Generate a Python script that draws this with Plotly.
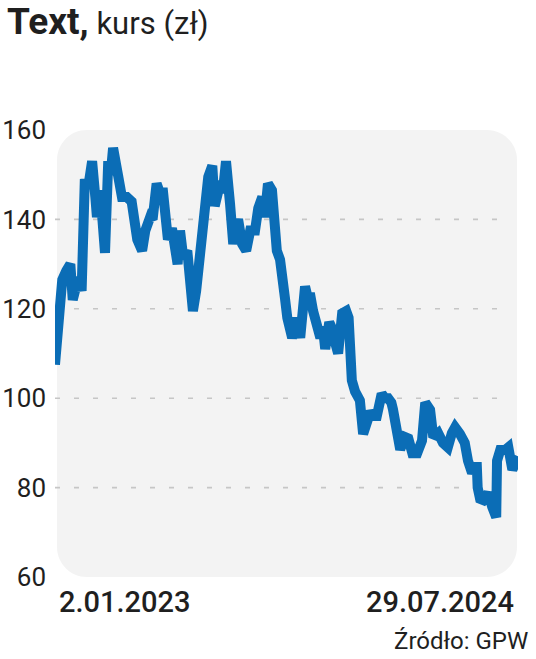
import plotly.graph_objects as go

# ---- data ----
dates = [
    "2023-01-02", "2023-01-04", "2023-01-06", "2023-01-11", "2023-01-16", "2023-01-21",
    "2023-01-24", "2023-01-28", "2023-01-31", "2023-02-04", "2023-02-08", "2023-02-12",
    "2023-02-17", "2023-02-21", "2023-02-23", "2023-02-27", "2023-03-03", "2023-03-05",
    "2023-03-09", "2023-03-12", "2023-03-15", "2023-03-19", "2023-03-21", "2023-03-26",
    "2023-04-01", "2023-04-07", "2023-04-11", "2023-04-14", "2023-04-20", "2023-04-24",
    "2023-04-30", "2023-05-03", "2023-05-08", "2023-05-12", "2023-05-16", "2023-05-20",
    "2023-05-22", "2023-05-27", "2023-05-31", "2023-06-03", "2023-06-06", "2023-06-10",
    "2023-06-15", "2023-06-18", "2023-06-22", "2023-06-26", "2023-06-28", "2023-07-03",
    "2023-07-07", "2023-07-11", "2023-07-16", "2023-07-19", "2023-07-23", "2023-07-26",
    "2023-07-29", "2023-08-02", "2023-08-07", "2023-08-11", "2023-08-14", "2023-08-17",
    "2023-08-22", "2023-08-27", "2023-09-01", "2023-09-07", "2023-09-11", "2023-09-16",
    "2023-09-19", "2023-09-23", "2023-09-28", "2023-09-30", "2023-10-03", "2023-10-04",
    "2023-10-08", "2023-10-12", "2023-10-14", "2023-10-17", "2023-10-20", "2023-10-23",
    "2023-10-27", "2023-10-29", "2023-11-02", "2023-11-05", "2023-11-08", "2023-11-12",
    "2023-11-14", "2023-11-18", "2023-11-23", "2023-11-27", "2023-11-30", "2023-12-03",
    "2023-12-08", "2023-12-13", "2023-12-16", "2023-12-19", "2023-12-24", "2023-12-29",
    "2024-01-01", "2024-01-05", "2024-01-09", "2024-01-15", "2024-01-19", "2024-01-23",
    "2024-01-28", "2024-02-01", "2024-02-05", "2024-02-11", "2024-02-15", "2024-02-19",
    "2024-02-23", "2024-02-25", "2024-03-01", "2024-03-05", "2024-03-08", "2024-03-11",
    "2024-03-15", "2024-03-20", "2024-03-26", "2024-03-29", "2024-04-01", "2024-04-05",
    "2024-04-08", "2024-04-11", "2024-04-15", "2024-04-21", "2024-04-27", "2024-05-03",
    "2024-05-08", "2024-05-12", "2024-05-18", "2024-05-24", "2024-05-28", "2024-06-02",
    "2024-06-06", "2024-06-08", "2024-06-09", "2024-06-12", "2024-06-16", "2024-06-19",
    "2024-06-22", "2024-06-27", "2024-07-02", "2024-07-03", "2024-07-07", "2024-07-13",
    "2024-07-17", "2024-07-22", "2024-07-25", "2024-07-29",
]
prices = [
    107.5, 112, 121, 126.5, 128.5, 130,
    122, 124, 127, 124, 149, 147,
    153, 145, 140.5, 146.5, 140, 132.5,
    153, 150, 156, 153, 150, 145,
    145, 144, 140, 135.5, 133, 137.5,
    140.5, 140, 148, 146, 146, 140,
    135.5, 138, 134, 130, 137.5, 131.5,
    133, 124, 119.5, 124, 128, 135.5,
    145, 149.5, 152, 143, 146, 148.5,
    146, 153, 143.5, 134.5, 138, 140,
    134.5, 133, 137.5, 137.5, 142.5, 145,
    140.5, 148, 146.5, 142, 136, 133,
    131, 127, 122.5, 118, 115, 113.5,
    116, 118, 113.5, 120, 125, 122,
    123.5, 119.5, 115, 113.5, 116, 111,
    117, 115, 112, 110, 119, 119.5,
    118, 104, 101.5, 99.5, 92, 95,
    97, 96, 96, 101, 100, 100,
    99, 97.5, 91.5, 88.5, 90, 91.3,
    91, 87.7, 87.7, 89, 90.5, 99,
    97.5, 97.4, 91.3, 92.2, 90, 89,
    92.2, 93.5, 92, 90, 86, 83.3,
    84.6, 84.6, 80, 77.5, 77.2, 78.5,
    78.8, 75.7, 73.4, 86, 88.4, 88.4,
    89, 84, 86, 87,
]
y_ticks = [60, 80, 100, 120, 140, 160]
grid_values = [80, 100, 120, 140]
x_labels = [("2023-01-02", "2.01.2023"), ("2024-07-29", "29.07.2024")]
title_bold = "Text,"
title_rest = " kurs (zł)"
source_text = "Źródło: GPW"

FONT = "Roboto, sans-serif"
TXT = "#1f1f1f"
LINE = "#0b6db6"

fig = go.Figure()
fig.add_trace(go.Scatter(
    x=dates, y=prices, mode="lines",
    line=dict(color=LINE, width=10, shape="linear"),
    hoverinfo="skip", showlegend=False,
))

W, H = 536, 659
ml, mr, mt, mb = 55, 18, 130, 82
pw = W - ml - mr
ph = H - mt - mb

# rounded background (paper coords)
x0 = (57 - ml) / pw
x1 = (517 - ml) / pw
y0, y1 = 0.0, 1.0
r = 30
rx, ry = r / pw, r / ph
k = 0.5523
path = (
    f"M {x0+rx},{y1} L {x1-rx},{y1} "
    f"C {x1-rx+rx*k},{y1} {x1},{y1-ry+ry*k} {x1},{y1-ry} "
    f"L {x1},{y0+ry} "
    f"C {x1},{y0+ry-ry*k} {x1-rx+rx*k},{y0} {x1-rx},{y0} "
    f"L {x0+rx},{y0} "
    f"C {x0+rx-rx*k},{y0} {x0},{y0+ry-ry*k} {x0},{y0+ry} "
    f"L {x0},{y1-ry} "
    f"C {x0},{y1-ry+ry*k} {x0+rx-rx*k},{y1} {x0+rx},{y1} Z"
)
shapes = [dict(type="path", path=path, xref="paper", yref="paper",
               fillcolor="#f3f3f3", line=dict(width=0), layer="below")]
for g in grid_values:
    shapes.append(dict(type="line", xref="paper", yref="y",
                       x0=0.0, x1=(506 - ml) / pw, y0=g, y1=g,
                       line=dict(color="#c6c6c6", width=1.6, dash="5px,14px"),
                       layer="below"))

annotations = [
    dict(text=f"<b><span style='font-size:37px'>{title_bold}</span></b>{title_rest}",
         xref="paper", yref="paper",
         x=(5 - ml) / pw, y=(mt + ph - 22) / ph, xanchor="left", yanchor="middle",
         showarrow=False, font=dict(family=FONT, size=31, color=TXT)),
    dict(text=source_text, xref="paper", yref="paper",
         x=(530 - ml) / pw, y=-(641 - mt - ph) / ph, xanchor="right", yanchor="middle",
         showarrow=False, font=dict(family=FONT, size=24, color=TXT)),
]
for i, (d, lab) in enumerate(x_labels):
    annotations.append(dict(
        text=lab, xref="x", yref="paper", x=d, y=-(602 - mt - ph) / ph,
        xanchor="left" if i == 0 else "right", yanchor="middle",
        xshift=2 if i == 0 else -2,
        showarrow=False, font=dict(family=FONT, size=29, color=TXT, weight=500)))

fig.update_layout(
    width=W, height=H,
    margin=dict(l=ml, r=mr, t=mt, b=mb, pad=0, autoexpand=False),
    paper_bgcolor="white", plot_bgcolor="rgba(0,0,0,0)",
    shapes=shapes, annotations=annotations,
    xaxis=dict(range=[dates[0], dates[-1]], type="date", showgrid=False,
               zeroline=False, showticklabels=False, showline=False, ticks="",
               automargin=False),
    yaxis=dict(range=[60, 160], tickvals=y_ticks, ticktext=[str(v) for v in y_ticks],
               showgrid=False, zeroline=False, showline=False, ticks="",
               ticklabelstandoff=8, automargin=False,
               tickfont=dict(family=FONT, size=26, color=TXT)),
    font=dict(family=FONT),
)
fig.write_html("out.html", config={"displayModeBar": False},
               post_script="document.body.style.margin='0px';")
